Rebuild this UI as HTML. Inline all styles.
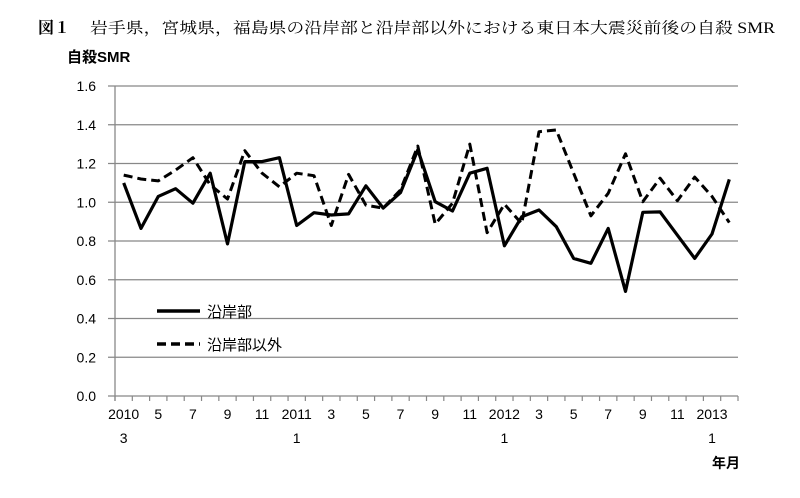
<!DOCTYPE html>
<html><head><meta charset="utf-8"><style>
body{margin:0;background:#fff;width:800px;height:498px;overflow:hidden}
svg{display:block}
text{font-family:"Liberation Sans","Noto Sans CJK JP",sans-serif;fill:#000}
</style></head><body>
<svg id="s" width="800" height="498" xmlns="http://www.w3.org/2000/svg">
<text x="38" y="33" style="font-family:'Liberation Serif','Noto Serif CJK SC',serif;font-size:16px;font-weight:bold">図１</text>
<text x="90" y="33" style="font-family:'Liberation Serif','Noto Serif CJK SC',serif;font-size:15.5px" textLength="685" lengthAdjust="spacingAndGlyphs">岩手県，宮城県，福島県の沿岸部と沿岸部以外における東日本大震災前後の自殺 SMR</text>
<text x="67" y="62" style="font-size:15px;font-weight:bold">自殺SMR</text>
<text x="726" y="468" text-anchor="middle" style="font-size:14px;font-weight:bold">年月</text>
<g id="g"></g>
<text x="207" y="317" style="font-size:15px">沿岸部</text>
<text x="207" y="350" style="font-size:15px">沿岸部以外</text>
<line x1="157" y1="311" x2="200" y2="311" stroke="#000" stroke-width="3.5"/>
<line x1="157" y1="344" x2="200" y2="344" stroke="#000" stroke-width="3.5" stroke-dasharray="9,5"/>
</svg>
<script>
var g=document.getElementById('g'),h='';
var X0=115,X1=738,Yb=396,k=193.75;
for(var i=0;i<=8;i++){var v=i*0.2,y=Yb-v*k;
 h+='<line x1="108" y1="'+y+'" x2="'+X1+'" y2="'+y+'" stroke="#888" stroke-width="1.3"/>';
 h+='<text x="96" y="'+(y+5)+'" text-anchor="end" style="font-size:14px">'+v.toFixed(1)+'</text>';}
h+='<line x1="'+X0+'" y1="86" x2="'+X0+'" y2="'+(Yb+5)+'" stroke="#888" stroke-width="1.3"/>';
var w=(X1-X0)/36;
for(var i=0;i<=36;i++){var x=X0+i*w;h+='<line x1="'+x+'" y1="'+Yb+'" x2="'+x+'" y2="'+(Yb+5)+'" stroke="#888" stroke-width="1.2"/>';}
var L=['2010','5','7','9','11','2011','3','5','7','9','11','2012','3','5','7','9','11','2013'];
var L2={0:'3',5:'1',11:'1',17:'1'};
for(var j=0;j<18;j++){var x=X0+w*(0.5+2*j);
 h+='<text x="'+x+'" y="419" text-anchor="middle" style="font-size:14px">'+L[j]+'</text>';
 if(L2[j])h+='<text x="'+x+'" y="443" text-anchor="middle" style="font-size:14px">'+L2[j]+'</text>';}
var A=[1.10,0.865,1.03,1.07,0.995,1.15,0.785,1.21,1.21,1.23,0.88,0.946,0.934,0.94,1.085,0.97,1.05,1.27,1.003,0.955,1.15,1.175,0.775,0.925,0.96,0.874,0.71,0.685,0.865,0.54,0.948,0.95,0.83,0.71,0.836,1.118];
var B=[1.14,1.12,1.11,1.166,1.23,1.09,1.017,1.266,1.15,1.08,1.15,1.137,0.88,1.144,0.985,0.97,1.063,1.29,0.887,0.995,1.30,0.843,0.99,0.89,1.364,1.373,1.15,0.93,1.046,1.25,1.003,1.124,1.008,1.13,1.03,0.895];
function pts(a){return a.map(function(v,i){return (X0+w*(i+0.5)).toFixed(1)+','+(Yb-v*k).toFixed(1)}).join(' ');}
h+='<polyline points="'+pts(B)+'" fill="none" stroke="#000" stroke-width="3" stroke-dasharray="9,5" stroke-linejoin="round"/>';
h+='<polyline points="'+pts(A)+'" fill="none" stroke="#000" stroke-width="3.2" stroke-linejoin="round"/>';
g.innerHTML=h;
</script>
</body></html>
